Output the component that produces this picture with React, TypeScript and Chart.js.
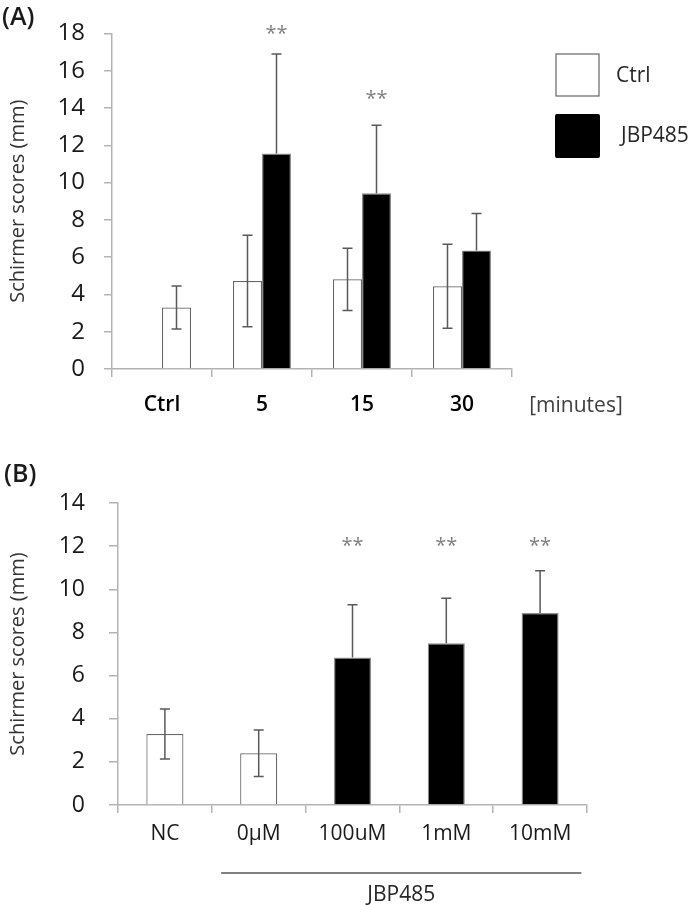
import React, { useEffect, useRef } from "react";
import { Chart, registerables } from "chart.js";

Chart.register(...registerables);

const FONT = "'Open Sans', 'DejaVu Sans', sans-serif";
const AXIS = "#b3b3b3";
const ERR = "#595959";
const TXT = "#1a1a1a";

// ---------- Panel A data ----------
const timeCategories = ["Ctrl", "5", "15", "30"];
// white "Ctrl" series (the baseline control bar sits in the second slot of its group)
const ctrlMeans = [null, 4.72, 4.81, 4.44];
const ctrlErrors = [null, 2.45, 1.67, 2.25];
// JBP485 series; the first entry is the untreated control (drawn white)
const jbpMeans = [3.3, 11.56, 9.43, 6.36];
const jbpErrors = [1.15, 5.33, 3.65, 1.98];
const jbpFillWhite = [true, false, false, false];
const starsA = ["", "**", "**", ""];
const starLevelsA = [null, 18.26, 14.74, null];
const yMaxA = 18;
const yStepA = 2;

// ---------- Panel B data ----------
const doseCategories = ["NC", "0µM", "100uM", "1mM", "10mM"];
const doseMeans = [3.29, 2.4, 6.84, 7.5, 8.9];
const doseErrors = [1.16, 1.08, 2.44, 2.09, 1.96];
const doseFillWhite = [true, true, false, false, false];
const starsB = ["", "", "**", "**", "**"];
const starLevelB = 12.26;
const yMaxB = 14;
const yStepB = 2;

const errorBarPlugin = {
  id: "errorBars",
  afterDatasetsDraw(chart: any, _args: any, opts: any) {
    const ctx = chart.ctx;
    const ys = chart.scales.y;
    chart.data.datasets.forEach((ds: any, di: number) => {
      const meta = chart.getDatasetMeta(di);
      const errs = opts.errors[di];
      const white = opts.white[di];
      meta.data.forEach((bar: any, i: number) => {
        const v = ds.data[i];
        const e = errs[i];
        if (v == null || e == null) return;
        const top = ys.getPixelForValue(v + e);
        const mid = ys.getPixelForValue(v);
        const bot = ys.getPixelForValue(v - e);
        const x = bar.x;
        const cap = opts.cap;
        ctx.save();
        ctx.strokeStyle = ERR;
        ctx.lineWidth = 1.5;
        ctx.beginPath();
        ctx.moveTo(x, top);
        ctx.lineTo(x, white[i] ? bot : mid);
        ctx.moveTo(x - cap, top);
        ctx.lineTo(x + cap, top);
        if (white[i]) {
          ctx.moveTo(x - cap, bot);
          ctx.lineTo(x + cap, bot);
        }
        ctx.stroke();
        ctx.restore();
      });
    });
  },
};

function drawStars(chart: any, dsIndex: number, stars: string[], levels: (number | null)[]) {
  const ctx = chart.ctx;
  const meta = chart.getDatasetMeta(dsIndex);
  ctx.save();
  ctx.fillStyle = "#808080";
  ctx.font = `20px ${FONT}`;
  ctx.textAlign = "center";
  ctx.textBaseline = "alphabetic";
  stars.forEach((s, i) => {
    const lv = levels[i];
    if (!s || lv == null) return;
    const y = chart.scales.y.getPixelForValue(lv);
    ctx.fillText(s, meta.data[i].x, y + 11);
  });
  ctx.restore();
}

const annotA = {
  id: "annotA",
  afterDraw(chart: any) {
    const ctx = chart.ctx;
    drawStars(chart, 1, starsA, starLevelsA);
    ctx.save();
    ctx.fillStyle = TXT;
    ctx.font = `600 25px ${FONT}`;
    ctx.textAlign = "left";
    ctx.textBaseline = "middle";
    ctx.fillText("(A)", 2, 18);
    // legend
    ctx.fillStyle = "#ffffff";
    ctx.strokeStyle = "#666666";
    ctx.lineWidth = 1.2;
    ctx.fillRect(556, 54, 43, 42);
    ctx.strokeRect(556, 54, 43, 42);
    ctx.fillStyle = "#000000";
    ctx.beginPath();
    (ctx as any).roundRect ? (ctx as any).roundRect(555, 114, 45, 44, 2) : ctx.rect(555, 114, 45, 44);
    ctx.fill();
    ctx.fillStyle = "#262626";
    ctx.font = `21px ${FONT}`;
    ctx.fillText("Ctrl", 616, 76);
    ctx.fillText("JBP485", 621, 136);
    // unit label
    ctx.fillStyle = "#404040";
    ctx.textAlign = "center";
    ctx.fillText("[minutes]", 576, 406);
    ctx.restore();
  },
};

const annotB = {
  id: "annotB",
  afterDraw(chart: any) {
    const ctx = chart.ctx;
    drawStars(chart, 0, starsB, starsB.map((s) => (s ? starLevelB : null)));
    const xs = chart.scales.x;
    const cw = xs.getPixelForValue(1) - xs.getPixelForValue(0);
    const x0 = xs.getPixelForValue(1) - 0.4 * cw;
    const x1 = xs.getPixelForValue(4) + 0.44 * cw;
    ctx.save();
    ctx.fillStyle = TXT;
    ctx.font = `600 25px ${FONT}`;
    ctx.textAlign = "left";
    ctx.textBaseline = "middle";
    ctx.fillText("(B)", 4, 35);
    ctx.strokeStyle = "#808080";
    ctx.lineWidth = 2;
    ctx.beginPath();
    ctx.moveTo(x0, 433);
    ctx.lineTo(x1, 433);
    ctx.stroke();
    ctx.fillStyle = "#262626";
    ctx.font = `21px ${FONT}`;
    ctx.textAlign = "center";
    ctx.fillText("JBP485", (x0 + x1) / 2, 455);
    ctx.restore();
  },
};

function yAxis(max: number, step: number, width: number, tickLen: number, pad: number, tickFont: number) {
  return {
    min: 0,
    max,
    ticks: { stepSize: step, padding: pad, color: TXT, font: { family: FONT, size: tickFont } },
    grid: { drawOnChartArea: false, drawTicks: true, tickLength: tickLen, color: AXIS, lineWidth: 1.5 },
    border: { color: AXIS, width: 1.5 },
    title: {
      display: true,
      text: "Schirmer scores (mm)",
      color: "#333333",
      font: { family: FONT, size: 20 },
      padding: { top: 6, bottom: 0 },
    },
    afterFit: (s: any) => {
      s.width = width;
    },
  };
}

function xAxis(height: number, pad: number, weight: string, color: string) {
  return {
    offset: true,
    ticks: {
      padding: pad,
      color,
      font: { family: FONT, size: 21, weight },
      maxRotation: 0,
      autoSkip: false,
    },
    grid: { drawOnChartArea: false, drawTicks: true, tickLength: 8, color: AXIS, lineWidth: 1.5, offset: true },
    border: { color: AXIS, width: 1.5 },
    afterFit: (s: any) => {
      s.height = height;
    },
  };
}

export default function App() {
  const refA = useRef<HTMLCanvasElement>(null);
  const refB = useRef<HTMLCanvasElement>(null);

  useEffect(() => {
    const chartA = new Chart(refA.current as HTMLCanvasElement, {
      type: "bar",
      data: {
        labels: timeCategories,
        datasets: [
          {
            label: "Ctrl",
            data: ctrlMeans as any,
            backgroundColor: "#ffffff",
            borderColor: "#666666",
            borderWidth: 1.2,
            categoryPercentage: 0.58,
            barPercentage: 1.0,
          },
          {
            label: "JBP485",
            data: jbpMeans,
            backgroundColor: jbpFillWhite.map((w) => (w ? "#ffffff" : "#000000")),
            borderColor: jbpFillWhite.map((w) => (w ? "#666666" : "#8c8c8c")),
            borderWidth: 1.2,
            categoryPercentage: 0.58,
            barPercentage: 1.0,
          },
        ],
      },
      options: {
        animation: false,
        responsive: false,
        maintainAspectRatio: false,
        layout: { padding: { top: 26, right: 188, left: 0, bottom: 0 } },
        plugins: {
          legend: { display: false },
          tooltip: { enabled: false },
          errorBars: {
            errors: [ctrlErrors, jbpErrors],
            white: [ctrlMeans.map(() => true), jbpFillWhite],
            cap: 5,
          },
        } as any,
        scales: {
          x: xAxis(71, 15, "600", "#000000") as any,
          y: yAxis(yMaxA, yStepA, 112, 8, 19, 24) as any,
        },
      },
      plugins: [errorBarPlugin, annotA],
    });

    const chartB = new Chart(refB.current as HTMLCanvasElement, {
      type: "bar",
      data: {
        labels: doseCategories,
        datasets: [
          {
            label: "Schirmer",
            data: doseMeans,
            backgroundColor: doseFillWhite.map((w) => (w ? "#ffffff" : "#000000")),
            borderColor: doseFillWhite.map((w) => (w ? "#666666" : "#8c8c8c")),
            borderWidth: 1.2,
            categoryPercentage: 1.0,
            barPercentage: 0.395,
          },
        ],
      },
      options: {
        animation: false,
        responsive: false,
        maintainAspectRatio: false,
        layout: { padding: { top: 63, right: 113, left: 0, bottom: 0 } },
        plugins: {
          legend: { display: false },
          tooltip: { enabled: false },
          errorBars: { errors: [doseErrors], white: [doseFillWhite], cap: 5 },
        } as any,
        scales: {
          x: xAxis(100, 8, "normal", TXT) as any,
          y: yAxis(yMaxB, yStepB, 118, 9, 24, 23) as any,
        },
      },
      plugins: [errorBarPlugin, annotB],
    });

    return () => {
      chartA.destroy();
      chartB.destroy();
    };
  }, []);

  return (
    <div style={{ position: "absolute", left: 0, top: 0, width: 700, height: 905, background: "#ffffff" }}>
      <canvas ref={refA} width={700} height={440} style={{ display: "block", width: 700, height: 440 }} />
      <canvas ref={refB} width={700} height={465} style={{ display: "block", width: 700, height: 465 }} />
    </div>
  );
}
